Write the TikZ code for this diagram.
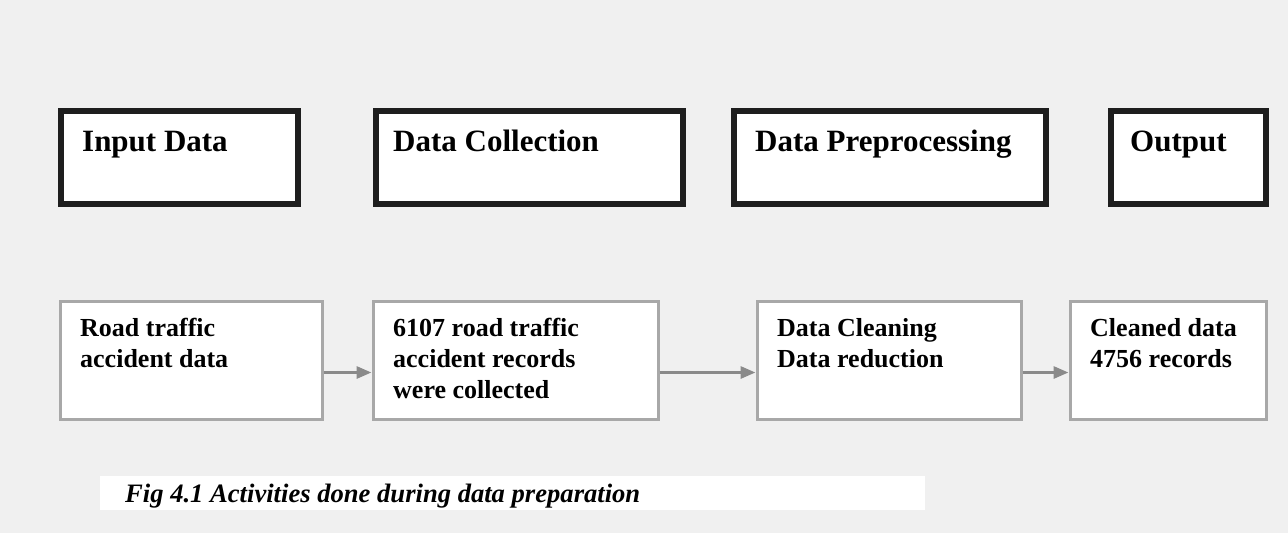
\documentclass[tikz,border=0pt]{standalone}
\usepackage{fontspec}
\setmainfont{Liberation Serif}
\usetikzlibrary{arrows.meta, positioning}
\definecolor{paper}{HTML}{F0F0F0}
\definecolor{boxline}{HTML}{1E1E1E}
\definecolor{softline}{HTML}{A8A8A8}
\definecolor{flowgray}{HTML}{8A8A8A}
\tikzstyle{stage} = [draw=boxline, line width=5.5pt, fill=white, anchor=north west, inner sep=0pt]
\tikzstyle{stagetxt} = [anchor=base west, inner sep=0pt, font=\fontsize{31}{36}\selectfont\bfseries]
\tikzstyle{task} = [draw=softline, line width=3pt, fill=white, anchor=north west, inner sep=0pt, minimum height=118pt]
\tikzstyle{tasktxt} = [anchor=north west, align=left, inner sep=0pt, font=\fontsize{26}{31}\selectfont\bfseries]
\tikzstyle{flow} = [-{Triangle[length=15pt, width=12pt]}, draw=flowgray, line width=3pt]

\begin{document}
\begin{tikzpicture}[x=1pt, y=-1pt]
  \useasboundingbox (0,0) rectangle (1288,533);
  \fill[paper] (0,0) rectangle (1288,533);

  % stages
  \node[stage, minimum width=237pt, minimum height=93pt] (input) at (58,108) {};
  \node[stage, minimum width=307pt, minimum height=93pt] (collect) at (373,108) {};
  \node[stage, minimum width=312pt, minimum height=93pt] (prep) at (731,108) {};
  \node[stage, minimum width=155pt, minimum height=93pt] (output) at (1108,108) {};

  \node[stagetxt] (input_t) at (82,151) {Input Data};
  \node[stagetxt] (collect_t) at (393,151) {Data Collection};
  \node[stagetxt] (prep_t) at (755,151) {Data Preprocessing};
  \node[stagetxt] (output_t) at (1130,151) {Output};

  % activities
  \node[task, minimum width=262pt] (road) at (58.5,299.5) {};
  \node[task, minimum width=285pt] (records) at (371.5,299.5) {};
  \node[task, minimum width=264pt] (clean) at (755.5,299.5) {};
  \node[task, minimum width=196pt] (result) at (1068.5,299.5) {};

  \node[tasktxt] (road_t) at (80,318) {Road traffic\\accident data};
  \node[tasktxt] (records_t) at (393,318) {6107 road traffic\\accident records\\were collected};
  \node[tasktxt] (clean_t) at (777,318) {Data Cleaning\\Data reduction};
  \node[tasktxt] (result_t) at (1090,318) {Cleaned data\\4756 records};

  % flow
  \draw[flow] ([yshift=-12.5pt]road.east) -- ([yshift=-12.5pt]records.west);
  \draw[flow] ([yshift=-12.5pt]records.east) -- ([yshift=-12.5pt]clean.west);
  \draw[flow] ([yshift=-12.5pt]clean.east) -- ([yshift=-12.5pt]result.west);

  % caption
  \fill[white] (100,476) rectangle (925,510);
  \node[anchor=base west, inner sep=0pt, font=\fontsize{26.6}{30}\selectfont\bfseries\itshape] (caption) at (125,502) {Fig 4.1 Activities done during data preparation};
\end{tikzpicture}
\end{document}
